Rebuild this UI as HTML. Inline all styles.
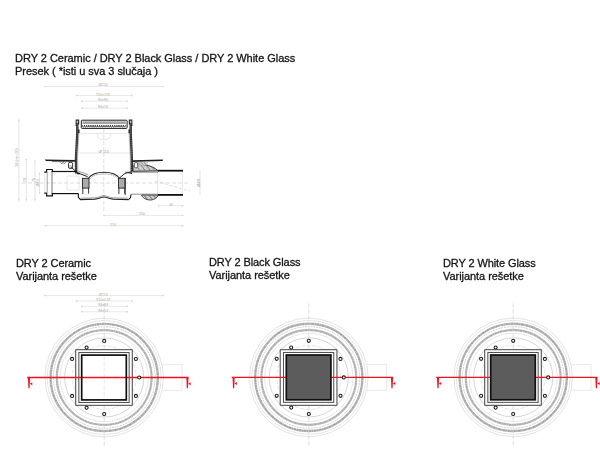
<!DOCTYPE html>
<html><head><meta charset="utf-8"><style>
html,body{margin:0;padding:0;background:#fff;width:600px;height:473px;overflow:hidden;position:relative}
.t{will-change:transform;position:absolute;font-family:"Liberation Sans",sans-serif;font-size:11px;line-height:11px;color:#151515;white-space:nowrap;letter-spacing:-0.03px;-webkit-text-stroke:0.3px #151515}
</style></head><body>
<svg width="600" height="473" viewBox="0 0 600 473" style="position:absolute;left:0;top:0;font-family:'Liberation Sans',sans-serif"><line x1="44.3" y1="86.5" x2="163.5" y2="86.5" stroke="#dadada" stroke-width="0.6"/>
<circle cx="45.1" cy="86.5" r="0.8" fill="#d0d0d0"/><circle cx="162.7" cy="86.5" r="0.8" fill="#d0d0d0"/>
<text x="103" y="86.4" font-size="3.7" fill="#a4a4a4" text-anchor="middle" stroke="#fff" stroke-width="0.6" paint-order="stroke">Ø224</text>
<line x1="75.8" y1="95.6" x2="132.5" y2="95.6" stroke="#dadada" stroke-width="0.6"/>
<circle cx="76.6" cy="95.6" r="0.8" fill="#d0d0d0"/><circle cx="131.7" cy="95.6" r="0.8" fill="#d0d0d0"/>
<text x="103" y="95.5" font-size="3.7" fill="#a4a4a4" text-anchor="middle" stroke="#fff" stroke-width="0.6" paint-order="stroke">310x126</text>
<line x1="81.2" y1="101.2" x2="127.8" y2="101.2" stroke="#dadada" stroke-width="0.6"/>
<circle cx="82.0" cy="101.2" r="0.8" fill="#d0d0d0"/><circle cx="127.0" cy="101.2" r="0.8" fill="#d0d0d0"/>
<text x="103" y="101.1" font-size="3.7" fill="#a4a4a4" text-anchor="middle" stroke="#fff" stroke-width="0.6" paint-order="stroke">80x80</text>
<line x1="81.2" y1="108.2" x2="127.8" y2="108.2" stroke="#dadada" stroke-width="0.6"/>
<circle cx="82.0" cy="108.2" r="0.8" fill="#d0d0d0"/><circle cx="127.0" cy="108.2" r="0.8" fill="#d0d0d0"/>
<text x="103" y="108.1" font-size="3.7" fill="#a4a4a4" text-anchor="middle" stroke="#fff" stroke-width="0.6" paint-order="stroke">84x54</text>
<line x1="18.9" y1="119.5" x2="18.9" y2="200.6" stroke="#d2d2d2" stroke-width="0.6"/>
<circle cx="18.9" cy="120.3" r="0.7" fill="#d0d0d0"/><circle cx="18.9" cy="199.8" r="0.7" fill="#d0d0d0"/>
<line x1="26.3" y1="159" x2="26.3" y2="200.6" stroke="#d2d2d2" stroke-width="0.6"/>
<circle cx="26.3" cy="159.8" r="0.7" fill="#d0d0d0"/><circle cx="26.3" cy="199.8" r="0.7" fill="#d0d0d0"/>
<line x1="35" y1="160.3" x2="35" y2="200.6" stroke="#d2d2d2" stroke-width="0.6"/>
<circle cx="35" cy="161.1" r="0.7" fill="#d0d0d0"/><circle cx="35" cy="199.8" r="0.7" fill="#d0d0d0"/>
<line x1="39.6" y1="172.4" x2="39.6" y2="193.5" stroke="#d2d2d2" stroke-width="0.6"/>
<circle cx="39.6" cy="173.2" r="0.7" fill="#d0d0d0"/><circle cx="39.6" cy="192.7" r="0.7" fill="#d0d0d0"/>
<text x="17.6" y="157.5" font-size="3.7" fill="#a0a0a0" text-anchor="middle" transform="rotate(-90 17.6 157.5)">58 (min 90)</text>
<text x="26" y="180" font-size="3.7" fill="#a0a0a0" text-anchor="middle" transform="rotate(-90 26 180)">78</text>
<text x="34.5" y="180" font-size="3.7" fill="#a0a0a0" text-anchor="middle" transform="rotate(-90 34.5 180)">76</text>
<text x="39.3" y="183" font-size="3.7" fill="#a0a0a0" text-anchor="middle" transform="rotate(-90 39.3 183)">Ø40</text>
<line x1="200" y1="170" x2="200" y2="195" stroke="#cfcfcf" stroke-width="0.5"/>
<text x="199.8" y="183" font-size="4.2" fill="#888" text-anchor="middle" transform="rotate(-90 199.8 183)">Ø40</text>
<line x1="158" y1="205.7" x2="183.3" y2="205.7" stroke="#dadada" stroke-width="0.6"/>
<circle cx="158.8" cy="205.7" r="0.8" fill="#d0d0d0"/><circle cx="182.5" cy="205.7" r="0.8" fill="#d0d0d0"/>
<text x="171" y="205.6" font-size="3.7" fill="#a4a4a4" text-anchor="middle" stroke="#fff" stroke-width="0.6" paint-order="stroke">40</text>
<line x1="103.3" y1="215.5" x2="183.3" y2="215.5" stroke="#dadada" stroke-width="0.6"/>
<circle cx="104.1" cy="215.5" r="0.8" fill="#d0d0d0"/><circle cx="182.5" cy="215.5" r="0.8" fill="#d0d0d0"/>
<text x="142" y="215.4" font-size="3.7" fill="#a4a4a4" text-anchor="middle" stroke="#fff" stroke-width="0.6" paint-order="stroke">150</text>
<line x1="44.7" y1="225.7" x2="183.3" y2="225.7" stroke="#dadada" stroke-width="0.6"/>
<circle cx="45.5" cy="225.7" r="0.8" fill="#d0d0d0"/><circle cx="182.5" cy="225.7" r="0.8" fill="#d0d0d0"/>
<text x="113" y="225.6" font-size="3.7" fill="#a4a4a4" text-anchor="middle" stroke="#fff" stroke-width="0.6" paint-order="stroke">214</text>
<line x1="103.8" y1="129" x2="103.8" y2="213" stroke="#c8c8c8" stroke-width="0.6" stroke-dasharray="4 2"/>
<line x1="22" y1="183" x2="190" y2="183" stroke="#c8c8c8" stroke-width="0.6" stroke-dasharray="4 2"/>
<line x1="80" y1="133.6" x2="127" y2="133.6" stroke="#cfcfcf" stroke-width="0.5"/>
<line x1="80" y1="153" x2="130" y2="153" stroke="#cfcfcf" stroke-width="0.5"/>
<text x="103.8" y="153.2" font-size="3.9" fill="#999" text-anchor="middle" stroke="#fff" stroke-width="0.5" paint-order="stroke">Ø 114</text>
<path d="M97 134 A7 6 0 0 0 111 134" fill="none" stroke="#ccc" stroke-width="0.5"/>
<line x1="155" y1="181" x2="190" y2="191" stroke="#bbb" stroke-width="0.5" stroke-dasharray="3 2"/>
<line x1="157.7" y1="170" x2="157.7" y2="196" stroke="#cfcfcf" stroke-width="0.5"/>
<line x1="182.5" y1="170" x2="182.5" y2="196" stroke="#cfcfcf" stroke-width="0.5"/>
<rect x="67" y="176" width="12" height="14" fill="none" stroke="#cfcfcf" stroke-width="0.5"/>
<rect x="81.3" y="120.2" width="45.8" height="8.2" rx="0.8" fill="#fff" stroke="#1e1e1e" stroke-width="1"/>
<rect x="82.6" y="121.4" width="43.2" height="2.6" fill="#9a9a9a"/>
<line x1="82.6" y1="122.9" x2="125.8" y2="122.9" stroke="#d8d8d8" stroke-width="0.6" stroke-dasharray="0.8 0.6"/>
<path d="M82.3 125.2 c0.1 2.4 2.06 2.4 2.16 0 c0.1 2.4 2.06 2.4 2.16 0 c0.1 2.4 2.06 2.4 2.16 0 c0.1 2.4 2.06 2.4 2.16 0 c0.1 2.4 2.06 2.4 2.16 0 c0.1 2.4 2.06 2.4 2.16 0 c0.1 2.4 2.06 2.4 2.16 0 c0.1 2.4 2.06 2.4 2.16 0 c0.1 2.4 2.06 2.4 2.16 0 c0.1 2.4 2.06 2.4 2.16 0 c0.1 2.4 2.06 2.4 2.16 0 c0.1 2.4 2.06 2.4 2.16 0 c0.1 2.4 2.06 2.4 2.16 0 c0.1 2.4 2.06 2.4 2.16 0 c0.1 2.4 2.06 2.4 2.16 0 c0.1 2.4 2.06 2.4 2.16 0 c0.1 2.4 2.06 2.4 2.16 0 c0.1 2.4 2.06 2.4 2.16 0 c0.1 2.4 2.06 2.4 2.16 0 c0.1 2.4 2.06 2.4 2.16 0" fill="none" stroke="#262626" stroke-width="0.9"/>
<path d="M75.6 119.6 h3.6 v4.8 h-1.4 v1.5 h-2.2 Z" fill="#2a2a2a"/>
<rect x="76.6" y="120.6" width="1.4" height="2.6" fill="#bbb"/>
<path d="M132.4 119.6 h-3.6 v4.8 h1.4 v1.5 h2.2 Z" fill="#2a2a2a"/>
<rect x="130" y="120.6" width="1.4" height="2.6" fill="#bbb"/>
<path d="M77 128.5 l2.6 1.2 v3.6 h-2.6 Z" fill="#333"/>
<path d="M131 128.5 l-2.6 1.2 v3.6 h2.6 Z" fill="#333"/>
<path d="M77.3 124 L77.3 133 L76 158 L76.1 173.5" fill="none" stroke="#2e2e2e" stroke-width="2.4"/>
<path d="M77.3 124 L77.3 133 L76 158 L76.1 173.5" fill="none" stroke="#999" stroke-width="0.7" stroke-dasharray="0.9 0.9"/>
<path d="M78.8 133.5 L77.6 158 L77.8 170" fill="none" stroke="#888" stroke-width="0.5"/>
<path d="M130.7 124 L130.7 133 L131.8 158 L131.8 171.5" fill="none" stroke="#2e2e2e" stroke-width="2.4"/>
<path d="M130.7 124 L130.7 133 L131.8 158 L131.8 171.5" fill="none" stroke="#999" stroke-width="0.7" stroke-dasharray="0.9 0.9"/>
<path d="M129.2 133.5 L130.3 158 L130.2 170" fill="none" stroke="#888" stroke-width="0.5"/>
<path d="M44.7 159.6 L75.5 160.1 L75.5 161.5 L46 160.9 Z" fill="#1e1e1e"/>
<path d="M52 161.1 l0.8 1 l0.8 -1 l0.8 1 l0.8 -1 l0.8 1 l0.8 -1 l0.8 1 l0.8 -1 l0.8 1 l0.8 -1 l0.8 1 l0.8 -1 l0.8 1 l0.8 -1 l0.8 1 l0.8 -1 l0.8 1 l0.8 -1 l0.8 1 l0.8 -1 l0.8 1 l0.8 -1 l0.8 1 l0.8 -1 l0.8 1 l0.8 -1 l0.8 1 l0.8 -1" fill="none" stroke="#333" stroke-width="0.6"/>
<path d="M60.5 162.6 q1.2 1.8 2.6 0 q1.2 1.8 2.6 0" fill="none" stroke="#333" stroke-width="0.7"/>
<path d="M132 160.3 L162.8 159.5 L162.8 160.9 L132 161.9 Z" fill="#1e1e1e"/>
<rect x="68.5" y="162.3" width="4.1" height="6.2" rx="1.6" fill="#fff" stroke="#222" stroke-width="0.9"/>
<circle cx="70.5" cy="166.5" r="1" fill="none" stroke="#555" stroke-width="0.5"/>
<path d="M71.4 167.4 L77.2 172.7 L87.7 176.7" stroke="#222" stroke-width="1" fill="none"/>
<path d="M76.3 171.2 L78.4 171 L88.5 175" stroke="#555" stroke-width="0.6" fill="none"/>
<path d="M77 173.5 L80 173.6" stroke="#111" stroke-width="1.5" fill="none"/>
<path d="M44.2 172.2 L46.6 172.2 L46.6 169.5 L52.4 169.5 L52.4 171.8" fill="none" stroke="#111" stroke-width="1.2" stroke-linejoin="round"/>
<path d="M44.2 193.1 L46.6 193.1 L46.6 195.9 L52.4 195.9 L52.4 193.6" fill="none" stroke="#111" stroke-width="1.2" stroke-linejoin="round"/>
<line x1="47.2" y1="172" x2="47.2" y2="193.4" stroke="#999" stroke-width="0.9"/>
<line x1="52" y1="172" x2="52" y2="193.4" stroke="#555" stroke-width="0.8"/>
<line x1="44.8" y1="173" x2="44.8" y2="192.5" stroke="#d0d0d0" stroke-width="0.6"/>
<line x1="51.6" y1="171.5" x2="77" y2="171.5" stroke="#111" stroke-width="1.2"/>
<line x1="51.6" y1="193.6" x2="78.5" y2="193.6" stroke="#111" stroke-width="1.2"/>
<path d="M78.3 193.6 L78.3 197.3 L80.5 199.5" stroke="#111" stroke-width="1.1" fill="none"/>
<path d="M88.6 178 C91 174.5 95 172.2 104 172.2 C113 172.2 117 174.5 119.4 178" fill="none" stroke="#222" stroke-width="1.1"/>
<path d="M89.8 178.8 C92 175.8 96 174 104 174 C112 174 116 175.8 118.2 178.8" fill="none" stroke="#777" stroke-width="0.7" stroke-dasharray="1 0.5"/>
<path d="M80 199.6 L95 199.2 C99 198.8 101 197 104 197 C107 197 109 198.8 113 199.2 L128.6 199.6" fill="none" stroke="#222" stroke-width="1.2"/>
<path d="M80.8 198.2 L95 197.8 C99 197.4 101 195.6 104 195.6 C107 195.6 109 197.4 113 197.8 L127.8 198.2" fill="none" stroke="#666" stroke-width="0.6"/>
<path d="M128.6 199.6 L130.5 197.5 L131 194.5" stroke="#111" stroke-width="1.1" fill="none"/>
<rect x="82.4" y="178.3" width="6.6" height="9.8" fill="#aaa" stroke="#222" stroke-width="0.9"/>
<line x1="82.8" y1="188" x2="82.8" y2="194" stroke="#222" stroke-width="0.9"/>
<line x1="88.6" y1="188" x2="88.6" y2="193.6" stroke="#222" stroke-width="0.9"/>
<rect x="118.5" y="178.3" width="6.6" height="9.8" fill="#aaa" stroke="#222" stroke-width="0.9"/>
<line x1="118.9" y1="188" x2="118.9" y2="194" stroke="#222" stroke-width="0.9"/>
<line x1="124.7" y1="188" x2="124.7" y2="193.6" stroke="#222" stroke-width="0.9"/>
<path d="M119.4 178 L125 173.4 L131.8 171.6" stroke="#222" stroke-width="1" fill="none"/>
<path d="M125 172.5 L132 172.5 L132 174 Z" fill="#222"/>
<line x1="125" y1="172.2" x2="158" y2="172.2" stroke="#444" stroke-width="0.6"/>
<line x1="131" y1="194.2" x2="158" y2="194.2" stroke="#444" stroke-width="0.6"/>
<line x1="125.2" y1="178" x2="125.2" y2="195" stroke="#222" stroke-width="0.9"/>
<path d="M133 171.3 L133 165.5 C141 163.6 151 164.5 158.3 170.8 Z" fill="#cccccc" stroke="#222" stroke-width="0.9"/>
<path d="M136.5 166 l3.2 4.5 M141 165 l4 5.5 M146.5 165.3 l3.8 5.2 M151.5 166.5 l3.2 4" stroke="#555" stroke-width="0.6"/>
<path d="M133 162.2 L148 161.8 L148 165 L133 165.5 Z" fill="#d0d0d0"/>
<path d="M138 162.4 l2 2.6 M141 162.2 l2 2.6 M144 162.1 l2 2.6" stroke="#555" stroke-width="0.6"/>
<rect x="134.3" y="162.6" width="3.4" height="5.2" rx="1.3" fill="#fff" stroke="#333" stroke-width="0.8"/>
<path d="M141.5 195 C143 199 148 200.2 151 200 C154.5 199.7 156.8 198 158.3 195.2 Z" fill="#cccccc" stroke="#222" stroke-width="0.8"/>
<path d="M144.5 196 l3 3.6 M149 195.5 l3.5 3.8 M153.5 195.6 l2.5 2.8" stroke="#444" stroke-width="0.7"/>
<line x1="158" y1="170.7" x2="183" y2="170.7" stroke="#111" stroke-width="1.8"/>
<line x1="158" y1="194.9" x2="183" y2="194.9" stroke="#111" stroke-width="1.8"/>
<line x1="44.3" y1="295.6" x2="163.5" y2="295.6" stroke="#dadada" stroke-width="0.6"/>
<circle cx="45.1" cy="295.6" r="0.8" fill="#d0d0d0"/><circle cx="162.7" cy="295.6" r="0.8" fill="#d0d0d0"/>
<text x="103.2" y="295.5" font-size="3.7" fill="#a4a4a4" text-anchor="middle" stroke="#fff" stroke-width="0.6" paint-order="stroke">Ø224</text>
<line x1="75.8" y1="301" x2="132.7" y2="301" stroke="#dadada" stroke-width="0.6"/>
<circle cx="76.6" cy="301" r="0.8" fill="#d0d0d0"/><circle cx="131.9" cy="301" r="0.8" fill="#d0d0d0"/>
<text x="103.2" y="300.9" font-size="3.7" fill="#a4a4a4" text-anchor="middle" stroke="#fff" stroke-width="0.6" paint-order="stroke">310x126</text>
<line x1="81.2" y1="306.4" x2="127.8" y2="306.4" stroke="#dadada" stroke-width="0.6"/>
<circle cx="82.0" cy="306.4" r="0.8" fill="#d0d0d0"/><circle cx="127.0" cy="306.4" r="0.8" fill="#d0d0d0"/>
<text x="103.2" y="306.3" font-size="3.7" fill="#a4a4a4" text-anchor="middle" stroke="#fff" stroke-width="0.6" paint-order="stroke">84x84</text>
<line x1="81.2" y1="311.8" x2="127.8" y2="311.8" stroke="#dadada" stroke-width="0.6"/>
<circle cx="82.0" cy="311.8" r="0.8" fill="#d0d0d0"/><circle cx="127.0" cy="311.8" r="0.8" fill="#d0d0d0"/>
<text x="103.2" y="311.7" font-size="3.7" fill="#a4a4a4" text-anchor="middle" stroke="#fff" stroke-width="0.6" paint-order="stroke">84x54</text>
<path d="M162.4 364.4 H182.0 V390.4 H162.4" fill="none" stroke="#d8d8d8" stroke-width="0.6"/>
<circle cx="104.2" cy="377.5" r="59.3" fill="none" stroke="#d0d0d0" stroke-width="0.6"/>
<circle cx="104.2" cy="377.5" r="57" fill="none" stroke="#d4d4d4" stroke-width="0.6"/>
<circle cx="104.2" cy="377.5" r="53.6" fill="none" stroke="#c2c2c2" stroke-width="2.4"/>
<circle cx="104.2" cy="377.5" r="53.6" fill="none" stroke="#a4a4a4" stroke-width="1.6" stroke-dasharray="2.5 0.8 1 0.8"/>
<circle cx="104.2" cy="377.5" r="50.8" fill="none" stroke="#c4c4c4" stroke-width="0.8" stroke-dasharray="2 0.8"/>
<circle cx="104.2" cy="377.5" r="47.4" fill="none" stroke="#c6c6c6" stroke-width="2.3"/>
<circle cx="104.2" cy="377.5" r="47.4" fill="none" stroke="#acacac" stroke-width="1.5" stroke-dasharray="2.5 0.8 1 0.8"/>
<circle cx="104.2" cy="377.5" r="44.2" fill="none" stroke="#d6d6d6" stroke-width="0.6"/>
<circle cx="104.2" cy="377.5" r="39.6" fill="none" stroke="#c4c4c4" stroke-width="0.7"/>
<circle cx="104.2" cy="377.5" r="32" fill="none" stroke="#d4d4d4" stroke-width="0.6" stroke-dasharray="4 1.5"/>
<line x1="104.2" y1="303.5" x2="104.2" y2="446.0" stroke="#c8c8c8" stroke-width="0.6" stroke-dasharray="4 2"/>
<rect x="75.65" y="349.65" width="56.7" height="55.7" rx="0.6" fill="#fff" stroke="#666" stroke-width="1.25"/>
<rect x="78.85" y="352.55" width="50.3" height="49.9" fill="none" stroke="#4a4a4a" stroke-width="1"/>
<line x1="104.2" y1="355.5" x2="104.2" y2="399.5" stroke="#d8d8d8" stroke-width="0.6" stroke-dasharray="4 2"/>
<line x1="27.2" y1="377.5" x2="188.4" y2="377.5" stroke="#f2121e" stroke-width="1.3"/>
<path d="M27.9 377.0 L30.1 377.0 L29.6 388.3 L28.4 388.3 Z" fill="#f2121e"/>
<path d="M29.8 383.7 L32.3 382.2 L32.3 385.2 Z" fill="#f2121e"/>
<path d="M186.3 377.0 L188.5 377.0 L188.0 388.3 L186.8 388.3 Z" fill="#f2121e"/>
<path d="M188.2 383.7 L190.7 382.2 L190.7 385.2 Z" fill="#f2121e"/>
<rect x="81.7" y="355.1" width="44.6" height="44.8" fill="none" stroke="#111" stroke-width="1.7"/>
<circle cx="104.2" cy="340.9" r="1.55" fill="#fff" stroke="#1a1a1a" stroke-width="1.05"/>
<circle cx="86.6" cy="347.6" r="1.55" fill="#fff" stroke="#1a1a1a" stroke-width="1.05"/>
<circle cx="72.1" cy="358.9" r="1.55" fill="#fff" stroke="#1a1a1a" stroke-width="1.05"/>
<circle cx="72.1" cy="395.9" r="1.55" fill="#fff" stroke="#1a1a1a" stroke-width="1.05"/>
<circle cx="86.6" cy="407.7" r="1.55" fill="#fff" stroke="#1a1a1a" stroke-width="1.05"/>
<circle cx="104.2" cy="414.1" r="1.55" fill="#fff" stroke="#1a1a1a" stroke-width="1.05"/>
<circle cx="135.9" cy="359.0" r="1.55" fill="#fff" stroke="#1a1a1a" stroke-width="1.05"/>
<circle cx="139.2" cy="377.5" r="1.55" fill="#fff" stroke="#1a1a1a" stroke-width="1.05"/>
<circle cx="135.9" cy="395.9" r="1.55" fill="#fff" stroke="#1a1a1a" stroke-width="1.05"/>
<path d="M367.0 364.3 H386.6 V390.3 H367.0" fill="none" stroke="#d8d8d8" stroke-width="0.6"/>
<circle cx="308.8" cy="377.4" r="59.3" fill="none" stroke="#d0d0d0" stroke-width="0.6"/>
<circle cx="308.8" cy="377.4" r="57" fill="none" stroke="#d4d4d4" stroke-width="0.6"/>
<circle cx="308.8" cy="377.4" r="53.6" fill="none" stroke="#c2c2c2" stroke-width="2.4"/>
<circle cx="308.8" cy="377.4" r="53.6" fill="none" stroke="#a4a4a4" stroke-width="1.6" stroke-dasharray="2.5 0.8 1 0.8"/>
<circle cx="308.8" cy="377.4" r="50.8" fill="none" stroke="#c4c4c4" stroke-width="0.8" stroke-dasharray="2 0.8"/>
<circle cx="308.8" cy="377.4" r="47.4" fill="none" stroke="#c6c6c6" stroke-width="2.3"/>
<circle cx="308.8" cy="377.4" r="47.4" fill="none" stroke="#acacac" stroke-width="1.5" stroke-dasharray="2.5 0.8 1 0.8"/>
<circle cx="308.8" cy="377.4" r="44.2" fill="none" stroke="#d6d6d6" stroke-width="0.6"/>
<circle cx="308.8" cy="377.4" r="39.6" fill="none" stroke="#c4c4c4" stroke-width="0.7"/>
<circle cx="308.8" cy="377.4" r="32" fill="none" stroke="#d4d4d4" stroke-width="0.6" stroke-dasharray="4 1.5"/>
<line x1="308.8" y1="303.4" x2="308.8" y2="445.9" stroke="#c8c8c8" stroke-width="0.6" stroke-dasharray="4 2"/>
<rect x="280.25" y="349.55" width="56.7" height="55.7" rx="0.6" fill="#fff" stroke="#666" stroke-width="1.25"/>
<rect x="283.45" y="352.45" width="50.3" height="49.9" fill="none" stroke="#4a4a4a" stroke-width="1"/>
<line x1="231.8" y1="377.4" x2="393.0" y2="377.4" stroke="#f2121e" stroke-width="1.3"/>
<path d="M232.5 376.9 L234.7 376.9 L234.2 388.2 L233 388.2 Z" fill="#f2121e"/>
<path d="M234.4 383.6 L236.9 382.1 L236.9 385.1 Z" fill="#f2121e"/>
<path d="M390.9 376.9 L393.1 376.9 L392.6 388.2 L391.4 388.2 Z" fill="#f2121e"/>
<path d="M392.8 383.6 L395.3 382.1 L395.3 385.1 Z" fill="#f2121e"/>
<rect x="286.3" y="355.0" width="44.6" height="44.8" fill="#5c5c5c" stroke="#111" stroke-width="1.7"/>
<circle cx="308.8" cy="340.8" r="1.55" fill="#fff" stroke="#1a1a1a" stroke-width="1.05"/>
<circle cx="291.2" cy="347.5" r="1.55" fill="#fff" stroke="#1a1a1a" stroke-width="1.05"/>
<circle cx="276.7" cy="358.8" r="1.55" fill="#fff" stroke="#1a1a1a" stroke-width="1.05"/>
<circle cx="276.7" cy="395.8" r="1.55" fill="#fff" stroke="#1a1a1a" stroke-width="1.05"/>
<circle cx="291.2" cy="407.6" r="1.55" fill="#fff" stroke="#1a1a1a" stroke-width="1.05"/>
<circle cx="308.8" cy="414.0" r="1.55" fill="#fff" stroke="#1a1a1a" stroke-width="1.05"/>
<circle cx="340.5" cy="358.9" r="1.55" fill="#fff" stroke="#1a1a1a" stroke-width="1.05"/>
<circle cx="343.8" cy="377.4" r="1.55" fill="#fff" stroke="#1a1a1a" stroke-width="1.05"/>
<circle cx="340.5" cy="395.8" r="1.55" fill="#fff" stroke="#1a1a1a" stroke-width="1.05"/>
<path d="M571.4 364.3 H591.0 V390.3 H571.4" fill="none" stroke="#d8d8d8" stroke-width="0.6"/>
<circle cx="513.2" cy="377.4" r="59.3" fill="none" stroke="#d0d0d0" stroke-width="0.6"/>
<circle cx="513.2" cy="377.4" r="57" fill="none" stroke="#d4d4d4" stroke-width="0.6"/>
<circle cx="513.2" cy="377.4" r="53.6" fill="none" stroke="#c2c2c2" stroke-width="2.4"/>
<circle cx="513.2" cy="377.4" r="53.6" fill="none" stroke="#a4a4a4" stroke-width="1.6" stroke-dasharray="2.5 0.8 1 0.8"/>
<circle cx="513.2" cy="377.4" r="50.8" fill="none" stroke="#c4c4c4" stroke-width="0.8" stroke-dasharray="2 0.8"/>
<circle cx="513.2" cy="377.4" r="47.4" fill="none" stroke="#c6c6c6" stroke-width="2.3"/>
<circle cx="513.2" cy="377.4" r="47.4" fill="none" stroke="#acacac" stroke-width="1.5" stroke-dasharray="2.5 0.8 1 0.8"/>
<circle cx="513.2" cy="377.4" r="44.2" fill="none" stroke="#d6d6d6" stroke-width="0.6"/>
<circle cx="513.2" cy="377.4" r="39.6" fill="none" stroke="#c4c4c4" stroke-width="0.7"/>
<circle cx="513.2" cy="377.4" r="32" fill="none" stroke="#d4d4d4" stroke-width="0.6" stroke-dasharray="4 1.5"/>
<line x1="513.2" y1="303.4" x2="513.2" y2="445.9" stroke="#c8c8c8" stroke-width="0.6" stroke-dasharray="4 2"/>
<rect x="484.65" y="349.55" width="56.7" height="55.7" rx="0.6" fill="#fff" stroke="#666" stroke-width="1.25"/>
<rect x="487.85" y="352.45" width="50.3" height="49.9" fill="none" stroke="#4a4a4a" stroke-width="1"/>
<line x1="436.2" y1="377.4" x2="597.4" y2="377.4" stroke="#f2121e" stroke-width="1.3"/>
<path d="M436.9 376.9 L439.1 376.9 L438.6 388.2 L437.4 388.2 Z" fill="#f2121e"/>
<path d="M438.8 383.6 L441.3 382.1 L441.3 385.1 Z" fill="#f2121e"/>
<path d="M595.3 376.9 L597.5 376.9 L597 388.2 L595.8 388.2 Z" fill="#f2121e"/>
<path d="M597.2 383.6 L599.7 382.1 L599.7 385.1 Z" fill="#f2121e"/>
<rect x="490.7" y="355.0" width="44.6" height="44.8" fill="#5c5c5c" stroke="#111" stroke-width="1.7"/>
<circle cx="513.2" cy="340.8" r="1.55" fill="#fff" stroke="#1a1a1a" stroke-width="1.05"/>
<circle cx="495.6" cy="347.5" r="1.55" fill="#fff" stroke="#1a1a1a" stroke-width="1.05"/>
<circle cx="481.1" cy="358.8" r="1.55" fill="#fff" stroke="#1a1a1a" stroke-width="1.05"/>
<circle cx="481.1" cy="395.8" r="1.55" fill="#fff" stroke="#1a1a1a" stroke-width="1.05"/>
<circle cx="495.6" cy="407.6" r="1.55" fill="#fff" stroke="#1a1a1a" stroke-width="1.05"/>
<circle cx="513.2" cy="414.0" r="1.55" fill="#fff" stroke="#1a1a1a" stroke-width="1.05"/>
<circle cx="544.9" cy="358.9" r="1.55" fill="#fff" stroke="#1a1a1a" stroke-width="1.05"/>
<circle cx="548.2" cy="377.4" r="1.55" fill="#fff" stroke="#1a1a1a" stroke-width="1.05"/>
<circle cx="544.9" cy="395.8" r="1.55" fill="#fff" stroke="#1a1a1a" stroke-width="1.05"/></svg>
<div class="t" style="left:15.4px;top:52.76px;letter-spacing:-0.03px">DRY 2 Ceramic / DRY 2 Black Glass / DRY 2 White Glass</div>
<div class="t" style="left:14.8px;top:65.56px;letter-spacing:-0.04px">Presek ( *isti u sva 3 slučaja )</div>
<div class="t" style="left:15.6px;top:257.56px;letter-spacing:-0.08px">DRY 2 Ceramic</div>
<div class="t" style="left:15.6px;top:270.56px;letter-spacing:-0.05px">Varijanta rešetke</div>
<div class="t" style="left:208.6px;top:256.86px;letter-spacing:-0.1px">DRY 2 Black Glass</div>
<div class="t" style="left:208.6px;top:269.86px;letter-spacing:-0.05px">Varijanta rešetke</div>
<div class="t" style="left:442.6px;top:258.06px;letter-spacing:-0.1px">DRY 2 White Glass</div>
<div class="t" style="left:442.6px;top:270.56px;letter-spacing:-0.05px">Varijanta rešetke</div>

</body></html>
